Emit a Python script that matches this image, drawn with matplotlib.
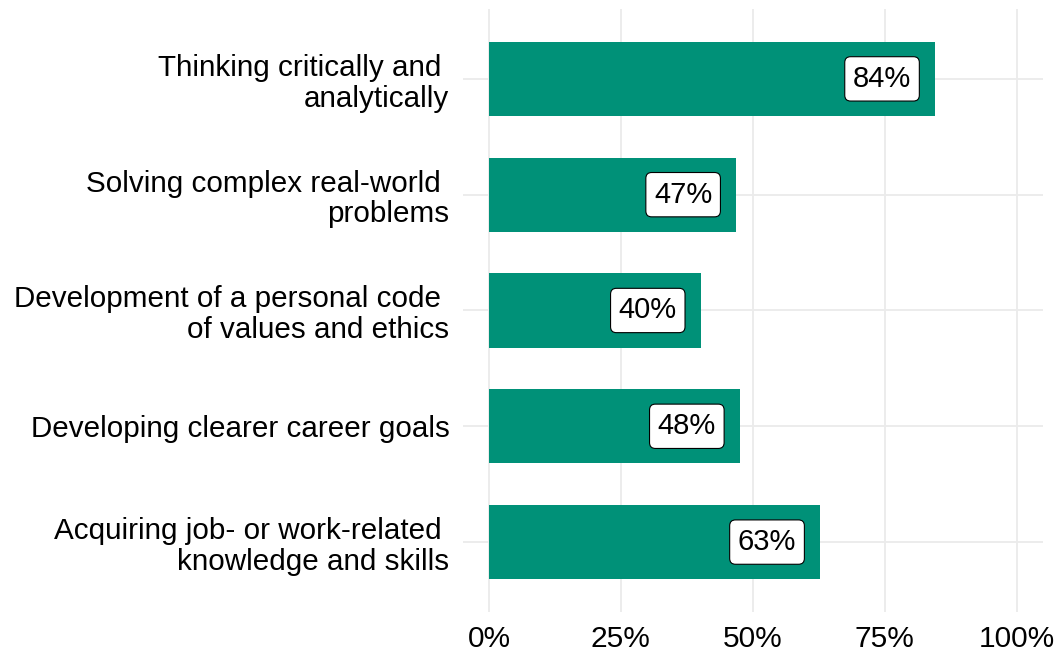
import matplotlib
matplotlib.use("Agg")
import matplotlib.pyplot as plt
from matplotlib.ticker import FixedLocator

categories = [
    "Thinking critically and \nanalytically",
    "Solving complex real-world \nproblems",
    "Development of a personal code \nof values and ethics",
    "Developing clearer career goals",
    "Acquiring job- or work-related \nknowledge and skills",
]
values = [0.845, 0.468, 0.401, 0.475, 0.627]
labels = ["84%", "47%", "40%", "48%", "63%"]
x_ticks = [0, 0.25, 0.5, 0.75, 1.0]
x_ticklabels = ["0%", "25%", "50%", "75%", "100%"]

plt.rcParams["font.family"] = ["Liberation Sans", "DejaVu Sans"]

fig = plt.figure(figsize=(10.61, 6.52), dpi=100)
ax = fig.add_axes([0.436, 0.062, 0.547, 0.9236])

ypos = list(range(len(categories)))[::-1]
ax.barh(ypos, values, height=0.64, color="#009178", zorder=2)
for y, v, lab in zip(ypos, values, labels):
    ax.text(v - 0.1, y, lab, ha="center", va="center", fontsize=21, zorder=3,
            bbox=dict(boxstyle="round,pad=0.28,rounding_size=0.2", fc="white",
                      ec="black", lw=0.8))

ax.set_xlim(-0.05, 1.05)
ax.set_ylim(-0.6, len(categories) - 1 + 0.6)
ax.set_yticks(ypos)
ax.set_yticklabels(categories, fontsize=21.3, ha="right", linespacing=1.12)
ax.xaxis.set_major_locator(FixedLocator(x_ticks))
ax.set_xticklabels(x_ticklabels, fontsize=21.5)
ax.tick_params(axis="both", length=0)
ax.tick_params(axis="x", pad=10)
ax.tick_params(axis="y", pad=9.5)
ax.grid(True, color="#EBEBEB", lw=1.3, zorder=0)
for s in ax.spines.values():
    s.set_visible(False)

fig.savefig("out.png", dpi=100)
